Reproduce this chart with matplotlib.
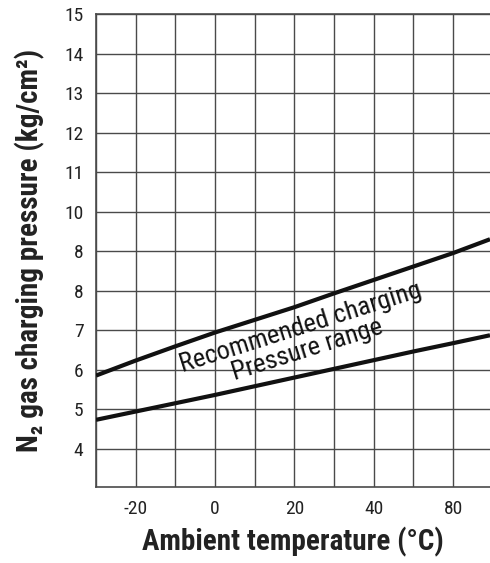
import matplotlib.pyplot as plt
import numpy as np

# temperatures (deg C) where the two boundary lines were read
temps = [-30, -20, -10, 0, 10, 20, 30, 40, 50, 60, 69.3]
upper = [5.85, 6.23, 6.59, 6.94, 7.26, 7.58, 7.93, 8.27, 8.61, 8.95, 9.30]
lower = [4.73, 4.94, 5.15, 5.36, 5.58, 5.80, 6.02, 6.24, 6.46, 6.67, 6.87]

x_ticks = [-20, 0, 20, 40, 60]
x_labels = ['-20', '0', '20', '40', '80']
y_ticks = [15, 14, 13, 12, 11, 10, 9, 8, 7, 6, 5, 4]
y_labels = ['15', '14', '13', '12', '11', '10', '8', '8', '7', '6', '5', '4']

font = ['Roboto Condensed', 'DejaVu Sans']
grid_col = '#4a4a4a'

fig = plt.figure(figsize=(4.9, 5.63), dpi=100)
ax = fig.add_axes([96 / 490, 1 - 487 / 563, 1 - 96 / 490, (487 - 14) / 563])

ax.set_xlim(-30, 69.3)
ax.set_ylim(3.03, 15)

ax.set_xticks(np.arange(-30, 70, 10), minor=True)
ax.set_yticks(np.arange(4, 16, 1), minor=True)
ax.set_xticks(x_ticks)
ax.set_xticklabels(x_labels, fontfamily=font, fontsize=14, color='#222222')
ax.set_yticks(y_ticks)
ax.set_yticklabels(y_labels, fontfamily=font, fontsize=14, color='#222222')
ax.grid(True, which='both', color=grid_col, lw=1.0)
ax.tick_params(which='both', length=0, pad=9)

for side in ['left', 'top', 'bottom']:
    ax.spines[side].set_color(grid_col)
    ax.spines[side].set_linewidth(1.2)
ax.spines['right'].set_visible(False)

ax.plot(temps, upper, color='#111111', lw=3, solid_capstyle='butt', zorder=3)
ax.plot(temps, lower, color='#111111', lw=3, solid_capstyle='butt', zorder=3)

ax.text(22.4, 6.78, 'Recommended charging\nPressure range', rotation=17.5,
        ha='center', va='center', multialignment='center', fontfamily=font,
        fontsize=19, color='#111111', linespacing=0.95, rotation_mode='anchor')

ax.set_xlabel('Ambient temperature (°C)', fontfamily=font, fontsize=21,
              fontweight='bold', color='#222222', labelpad=7)
ax.set_ylabel('N₂ gas charging pressure (kg/cm²)', fontfamily=font, fontsize=21,
              fontweight='bold', color='#222222', labelpad=14)

fig.savefig('out.png', dpi=100)
